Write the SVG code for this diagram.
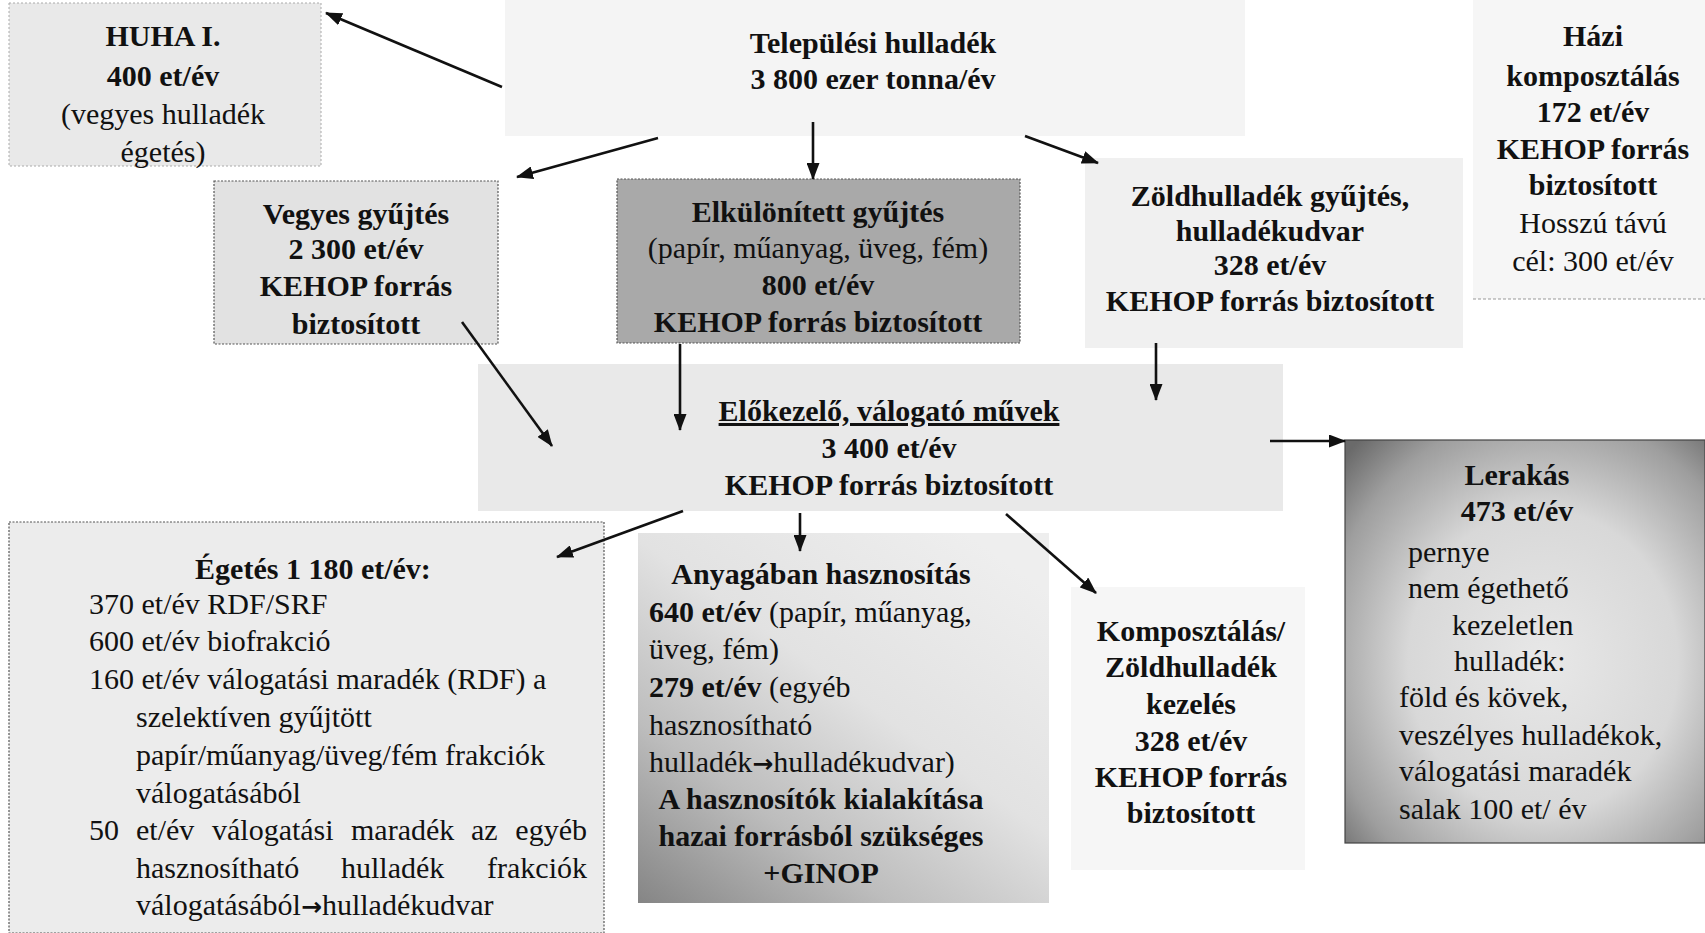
<svg xmlns="http://www.w3.org/2000/svg" width="1705" height="933" viewBox="0 0 1705 933">
<style>
text{font-family:"Liberation Serif","Times New Roman",serif;font-size:30px;fill:#111}
.b{font-weight:bold}
.c{text-anchor:middle}
.e{text-anchor:end}
.ar{font-family:"DejaVu Sans",sans-serif;font-weight:bold;font-size:25px}
.conn line{stroke:#111;stroke-width:2.6;marker-end:url(#ah)}
.box{stroke:#555;stroke-width:1.2;stroke-dasharray:2 1.5}
</style>
<defs>
<marker id="ah" markerUnits="userSpaceOnUse" markerWidth="17" markerHeight="13" viewBox="0 0 17 13" refX="16" refY="6.5" orient="auto">
<path d="M0,0 L17,6.5 L0,13 Z" fill="#111"/>
</marker>
<linearGradient id="gAny" x1="0" y1="1" x2="0.8" y2="0">
<stop offset="0" stop-color="#858585"/>
<stop offset="0.3" stop-color="#bdbdbd"/>
<stop offset="0.6" stop-color="#e2e2e2"/>
<stop offset="1" stop-color="#eeeeee"/>
</linearGradient>
<radialGradient id="gLer" cx="0.55" cy="0.55" r="0.75">
<stop offset="0" stop-color="#e8e8e8"/>
<stop offset="0.5" stop-color="#d8d8d8"/>
<stop offset="0.82" stop-color="#9e9e9e"/>
<stop offset="1" stop-color="#6a6a6a"/>
</radialGradient>
</defs>
<rect width="1705" height="933" fill="#ffffff"/>

<g id="telepulesi">
<rect x="505" y="0" width="740" height="136" fill="#f4f4f4"/>
<text class="b c" x="873" y="53">Települési hulladék</text>
<text class="b c" x="873" y="89">3 800 ezer tonna/év</text>
</g>

<g id="huha">
<rect x="9" y="3" width="312" height="163" fill="#e9e9e9" stroke="#aaa" stroke-width="1" stroke-dasharray="2 2"/>
<text class="b c" x="163" y="46">HUHA I.</text>
<text class="b c" x="163" y="86">400 et/év</text>
<text class="c" x="163" y="124">(vegyes hulladék</text>
<text class="c" x="163" y="162">égetés)</text>
</g>

<g id="hazi">
<rect x="1473" y="0" width="232" height="299" fill="#f6f6f6"/>
<line x1="1473" y1="299" x2="1705" y2="299" stroke="#999" stroke-dasharray="3 2"/>
<text class="b c" x="1593" y="46">Házi</text>
<text class="b c" x="1593" y="86">komposztálás</text>
<text class="b c" x="1593" y="122">172 et/év</text>
<text class="b c" x="1593" y="159">KEHOP forrás</text>
<text class="b c" x="1593" y="195">biztosított</text>
<text class="c" x="1593" y="233">Hosszú távú</text>
<text class="c" x="1593" y="271">cél: 300 et/év</text>
</g>

<g id="vegyes">
<rect class="box" x="214" y="181" width="284" height="163" fill="#e2e2e2"/>
<text class="b c" x="356" y="224">Vegyes gyűjtés</text>
<text class="b c" x="356" y="259">2 300 et/év</text>
<text class="b c" x="356" y="296">KEHOP forrás</text>
<text class="b c" x="356" y="334">biztosított</text>
</g>

<g id="elkulonitett">
<rect class="box" x="617" y="179" width="403" height="164" fill="#a9a9a9" stroke="#333"/>
<text class="b c" x="818" y="222">Elkülönített gyűjtés</text>
<text class="c" x="818" y="258">(papír, műanyag, üveg, fém)</text>
<text class="b c" x="818" y="295">800 et/év</text>
<text class="b c" x="818" y="332">KEHOP forrás biztosított</text>
</g>

<g id="zold">
<rect x="1085" y="158" width="378" height="190" fill="#f0f0f0"/>
<text class="b c" x="1270" y="206">Zöldhulladék gyűjtés,</text>
<text class="b c" x="1270" y="241">hulladékudvar</text>
<text class="b c" x="1270" y="275">328 et/év</text>
<text class="b c" x="1270" y="311">KEHOP forrás biztosított</text>
</g>

<g id="elokezelo">
<rect x="478" y="364" width="805" height="147" fill="#e9e9e9"/>
<text class="b c" x="889" y="421" text-decoration="underline">Előkezelő, válogató művek</text>
<text class="b c" x="889" y="458">3 400 et/év</text>
<text class="b c" x="889" y="495">KEHOP forrás biztosított</text>
</g>

<g id="egetes">
<rect class="box" x="9" y="522" width="595" height="411" fill="#ececec"/>
<text class="b c" x="313" y="579">Égetés 1 180 et/év:</text>
<text x="89" y="614">370 et/év RDF/SRF</text>
<text x="89" y="651">600 et/év biofrakció</text>
<text x="89" y="689">160 et/év válogatási maradék (RDF) a</text>
<text x="136" y="727">szelektíven gyűjtött</text>
<text x="136" y="765">papír/műanyag/üveg/fém frakciók</text>
<text x="136" y="803">válogatásából</text>
<text x="89" y="840">50</text>
<text x="136" y="840">et/év</text>
<text x="212" y="840">válogatási</text>
<text x="351" y="840">maradék</text>
<text x="471" y="840">az</text>
<text class="e" x="587" y="840">egyéb</text>
<text x="136" y="878">hasznosítható</text>
<text x="341" y="878">hulladék</text>
<text class="e" x="587" y="878">frakciók</text>
<text x="136" y="915">válogatásából<tspan class="ar">→</tspan>hulladékudvar</text>
</g>

<g id="anyagaban">
<rect x="638" y="533" width="411" height="370" fill="url(#gAny)"/>
<text class="b c" x="821" y="584">Anyagában hasznosítás</text>
<text x="649" y="622"><tspan class="b">640 et/év</tspan> (papír, műanyag,</text>
<text x="649" y="659">üveg, fém)</text>
<text x="649" y="697"><tspan class="b">279 et/év</tspan> (egyéb</text>
<text x="649" y="735">hasznosítható</text>
<text x="649" y="772">hulladék<tspan class="ar">→</tspan>hulladékudvar)</text>
<text class="b c" x="821" y="809">A hasznosítók kialakítása</text>
<text class="b c" x="821" y="846">hazai forrásból szükséges</text>
<text class="b c" x="821" y="883">+GINOP</text>
</g>

<g id="komposztalas">
<rect x="1071" y="587" width="234" height="283" fill="#f6f6f6"/>
<text class="b c" x="1191" y="641">Komposztálás/</text>
<text class="b c" x="1191" y="677">Zöldhulladék</text>
<text class="b c" x="1191" y="714">kezelés</text>
<text class="b c" x="1191" y="751">328 et/év</text>
<text class="b c" x="1191" y="787">KEHOP forrás</text>
<text class="b c" x="1191" y="823">biztosított</text>
</g>

<g id="lerakas">
<rect x="1345" y="440" width="360" height="403" fill="url(#gLer)" stroke="#444" stroke-width="1.2"/>
<text class="b c" x="1517" y="485">Lerakás</text>
<text class="b c" x="1517" y="521">473 et/év</text>
<text x="1408" y="562">pernye</text>
<text x="1408" y="598">nem égethető</text>
<text x="1452" y="635">kezeletlen</text>
<text x="1454" y="671">hulladék:</text>
<text x="1399" y="707">föld és kövek,</text>
<text x="1399" y="745">veszélyes hulladékok,</text>
<text x="1399" y="781">válogatási maradék</text>
<text x="1399" y="819">salak 100 et/ év</text>
</g>

<g id="connectors" class="conn">
<line x1="502" y1="87" x2="326" y2="13"/>
<line x1="658" y1="138" x2="517" y2="177"/>
<line x1="813" y1="122" x2="813" y2="179"/>
<line x1="1025" y1="136" x2="1098" y2="163"/>
<line x1="462" y1="322" x2="552" y2="446"/>
<line x1="680" y1="344" x2="680" y2="430"/>
<line x1="1156" y1="343" x2="1156" y2="400"/>
<line x1="1270" y1="441" x2="1345" y2="441"/>
<line x1="683" y1="511" x2="557" y2="557"/>
<line x1="800" y1="513" x2="800" y2="551"/>
<line x1="1006" y1="514" x2="1096" y2="593"/>
</g>
</svg>
